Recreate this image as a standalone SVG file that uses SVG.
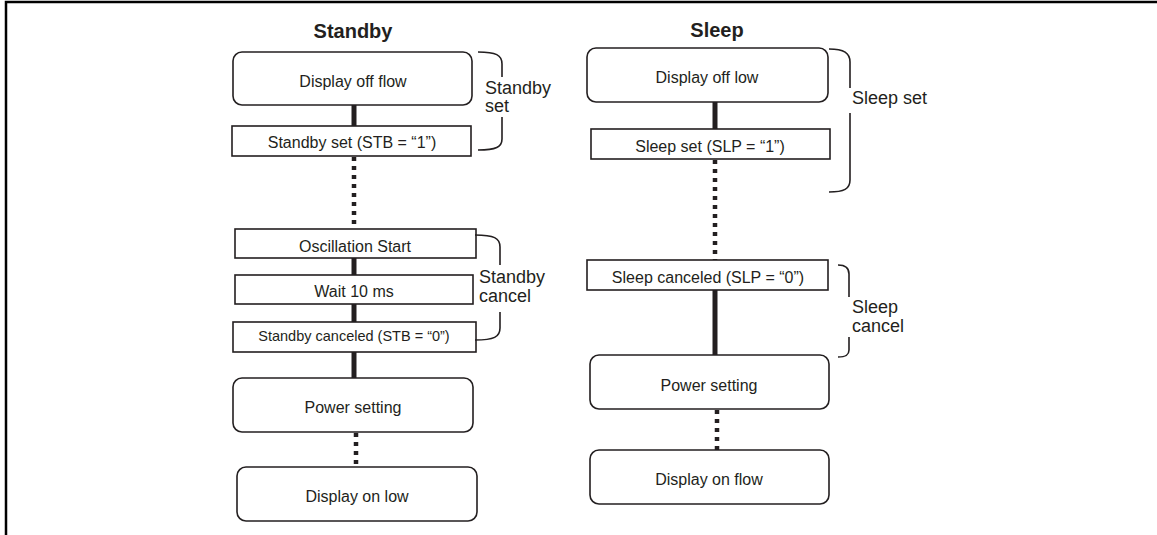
<svg xmlns="http://www.w3.org/2000/svg" width="1157" height="535" viewBox="0 0 1157 535">
<style>
text{font-family:"Liberation Sans",Arial,sans-serif;fill:#231f20;}
.t{font-size:16px;text-anchor:middle;}
.ts{font-size:14.5px;text-anchor:middle;}
.h{font-size:20px;font-weight:bold;text-anchor:middle;}
.b{font-size:18px;}
.box{fill:#fff;stroke:#231f20;stroke-width:1.6;}
.solid{stroke:#231f20;stroke-width:5;fill:none;}
.dot{stroke:#231f20;stroke-width:4.5;fill:none;stroke-dasharray:4 5;}
.br{stroke:#231f20;stroke-width:1.6;fill:none;}
</style>
<rect width="1157" height="535" fill="#fff"/>
<path d="M6,535 V2 H1157" fill="none" stroke="#000" stroke-width="2.5"/>

<text class="h" x="353" y="38">Standby</text>
<text class="h" x="717" y="37">Sleep</text>

<g id="connectors">
<line class="solid" x1="354" y1="105" x2="354" y2="126"/>
<line class="dot" x1="354" y1="157" x2="354" y2="229"/>
<line class="solid" x1="354" y1="258" x2="354" y2="275"/>
<line class="solid" x1="354" y1="304" x2="354" y2="322"/>
<line class="solid" x1="354" y1="352" x2="354" y2="378"/>
<line class="dot" x1="356" y1="433" x2="356" y2="467"/>
<line class="solid" x1="715" y1="102" x2="715" y2="129"/>
<line class="dot" x1="715" y1="160" x2="715" y2="260"/>
<line class="solid" x1="715" y1="290" x2="715" y2="355"/>
<line class="dot" x1="717" y1="410" x2="717" y2="450"/>
</g>

<g id="n_display_off_flow"><rect class="box" x="233" y="52" width="239" height="53" rx="9"/><text class="t" x="353" y="87">Display off flow</text></g>
<g id="n_standby_set"><rect class="box" x="232" y="126" width="239" height="30"/><text class="t" x="352" y="148">Standby set (STB = “1”)</text></g>
<g id="n_osc_start"><rect class="box" x="235" y="229" width="241" height="29"/><text class="t" x="355" y="252">Oscillation Start</text></g>
<g id="n_wait"><rect class="box" x="235" y="275" width="238" height="29"/><text class="t" x="354" y="297">Wait 10 ms</text></g>
<g id="n_standby_canceled"><rect class="box" x="233" y="322" width="243" height="30"/><text class="ts" x="354" y="341">Standby canceled (STB = “0”)</text></g>
<g id="n_power_setting_1"><rect class="box" x="233" y="378" width="240" height="54" rx="9"/><text class="t" x="353" y="413">Power setting</text></g>
<g id="n_display_on_low"><rect class="box" x="237" y="467" width="240" height="54" rx="9"/><text class="t" x="357" y="502">Display on low</text></g>

<g id="n_display_off_low"><rect class="box" x="587" y="48" width="241" height="54" rx="9"/><text class="t" x="707" y="83">Display off low</text></g>
<g id="n_sleep_set"><rect class="box" x="591" y="129" width="239" height="30"/><text class="t" x="710" y="152">Sleep set (SLP = “1”)</text></g>
<g id="n_sleep_canceled"><rect class="box" x="587" y="260" width="241" height="30"/><text class="t" x="708" y="283">Sleep canceled (SLP = “0”)</text></g>
<g id="n_power_setting_2"><rect class="box" x="590" y="355" width="239" height="54" rx="9"/><text class="t" x="709" y="391">Power setting</text></g>
<g id="n_display_on_flow"><rect class="box" x="590" y="450" width="239" height="54" rx="9"/><text class="t" x="709" y="485">Display on flow</text></g>

<g id="b_standby_set">
<path class="br" d="M478,52 C496,52 502,55 502,64 V77 M502,117 V139 C502,147 496,150 478,150"/>
<text class="b" x="485" y="94">Standby</text><text class="b" x="485" y="112">set</text>
</g>
<g id="b_standby_cancel">
<path class="br" d="M475,235 C494,235 500,238 500,247 V265 M500,312 V328 C500,337 494,340 475,340"/>
<text class="b" x="479" y="283">Standby</text><text class="b" x="479" y="302">cancel</text>
</g>
<g id="b_sleep_set">
<path class="br" d="M829,49 C844,49 850,53 850,62 V88 M850,113 V180 C850,189 844,192 829,192"/>
<text class="b" x="852" y="104">Sleep set</text>
</g>
<g id="b_sleep_cancel">
<path class="br" d="M838,265 C846,265 849,268 849,274 V297 M849,337 V350 C849,355 846,357 838,357"/>
<text class="b" x="852" y="313">Sleep</text><text class="b" x="852" y="332">cancel</text>
</g>
</svg>
